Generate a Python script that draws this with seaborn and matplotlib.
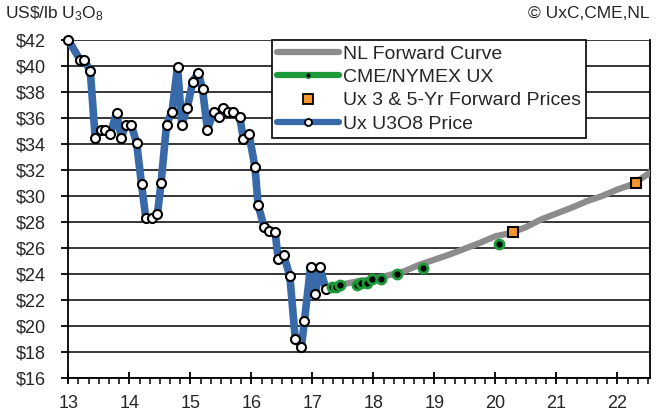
import matplotlib
matplotlib.use('Agg')
import matplotlib.pyplot as plt
import seaborn as sns
from matplotlib.lines import Line2D
from matplotlib.ticker import MultipleLocator, FuncFormatter

# Ux U3O8 month-end price (x = years since 2000)
ux_x = [13.00, 13.19, 13.26, 13.36, 13.44, 13.53, 13.60, 13.69, 13.79, 13.87,
        13.94, 14.03, 14.12, 14.20, 14.27, 14.37, 14.46, 14.52, 14.61, 14.70,
        14.79, 14.86, 14.95, 15.04, 15.13, 15.20, 15.28, 15.38, 15.47, 15.54,
        15.62, 15.70, 15.81, 15.87, 15.96, 16.06, 16.11, 16.21, 16.29, 16.39,
        16.44, 16.53, 16.63, 16.72, 16.82, 16.87, 16.97, 17.05, 17.12, 17.22]
ux_y = [42.0, 40.5, 40.5, 39.6, 34.5, 35.1, 35.1, 34.8, 36.4, 34.5,
        35.5, 35.5, 34.05, 30.9, 28.3, 28.3, 28.6, 31.0, 35.5, 36.5,
        39.95, 35.5, 36.8, 38.8, 39.5, 38.2, 35.1, 36.5, 36.05, 36.8,
        36.5, 36.5, 36.05, 34.4, 34.8, 32.2, 29.3, 27.6, 27.3, 27.2,
        25.15, 25.45, 23.85, 19.0, 18.4, 20.4, 24.55, 22.45, 24.55, 22.85]

# NL forward curve
nl_x = [17.22, 17.5, 17.75, 18.0, 18.25, 18.5, 18.75, 19.0, 19.25, 19.5, 19.75,
        20.0, 20.25, 20.5, 20.75, 21.0, 21.25, 21.5, 21.75, 22.0, 22.25, 22.6]
nl_y = [22.85, 23.2, 23.45, 23.6, 23.9, 24.2, 24.7, 25.1, 25.5, 25.95, 26.4,
        26.9, 27.15, 27.6, 28.2, 28.65, 29.1, 29.6, 30.0, 30.5, 30.9, 32.0]

# CME/NYMEX UX futures
cme_x = [17.32, 17.39, 17.46, 17.73, 17.80, 17.89, 17.98, 18.13, 18.38, 18.81, 20.06]
cme_y = [23.0, 23.0, 23.15, 23.15, 23.3, 23.3, 23.6, 23.6, 24.0, 24.45, 26.3]

# Ux 3 & 5-yr forward prices
fwd_x = [20.29, 22.30]
fwd_y = [27.2, 31.0]

BLUE = '#3869A8'
GRAY = '#8C8C8C'
GREEN = '#1E9A3A'
ORANGE = '#F7962F'

sns.set_theme(style='white')
plt.rcParams['font.family'] = ['Liberation Sans', 'DejaVu Sans']

fig = plt.figure(figsize=(6.57, 4.13), dpi=100)
ax = fig.add_axes([0.104, 0.085, 0.885, 0.818])

sns.lineplot(x=nl_x, y=nl_y, ax=ax, color=GRAY, lw=4.5, sort=False,
             estimator=None, zorder=3)
sns.lineplot(x=ux_x, y=ux_y, ax=ax, color=BLUE, lw=5.5, sort=False,
             estimator=None, marker='o', markersize=6.5, markerfacecolor='white',
             markeredgecolor='black', markeredgewidth=1.5, zorder=4, clip_on=False)
ax.plot(cme_x, cme_y, ls='none', marker='o', markersize=6.5,
        markerfacecolor='black', markeredgecolor=GREEN, markeredgewidth=2, zorder=5)
ax.plot(fwd_x, fwd_y, ls='none', marker='s', markersize=7.5,
        markerfacecolor=ORANGE, markeredgecolor='black', markeredgewidth=1.5, zorder=6)

ax.set_xlim(13, 22.53)
ax.set_ylim(16, 42)
ax.yaxis.set_major_locator(MultipleLocator(2))
ax.xaxis.set_major_locator(MultipleLocator(1))
ax.xaxis.set_minor_locator(MultipleLocator(1 / 6))
ax.yaxis.set_major_formatter(FuncFormatter(lambda v, p: f'${v:.0f}'))
ax.xaxis.set_major_formatter(FuncFormatter(lambda v, p: f'{v:.0f}'))
ax.grid(axis='y', color='black', lw=1.1)
ax.set_axisbelow(True)

for s in ['left', 'bottom', 'right']:
    ax.spines[s].set_visible(True)
    ax.spines[s].set_color('black')
    ax.spines[s].set_linewidth(1.3)
ax.spines['top'].set_visible(False)

ax.tick_params(axis='y', which='major', left=True, direction='out', length=5,
               width=1.3, color='black', pad=11, labelsize=13)
ax.tick_params(axis='x', which='major', bottom=True, direction='inout', length=9,
               width=1.3, color='black', pad=8, labelsize=13)
ax.tick_params(axis='x', which='minor', bottom=True, direction='out', length=4,
               width=1.1, color='black')
ax.set_xlabel('')
ax.set_ylabel('')

handles = [
    Line2D([], [], color=GRAY, lw=4.5),
    Line2D([], [], color=GREEN, lw=4.5, marker='o', markersize=4,
           markerfacecolor='black', markeredgecolor=GREEN),
    Line2D([], [], ls='none', marker='s', markersize=7,
           markerfacecolor=ORANGE, markeredgecolor='black', markeredgewidth=1.3),
    Line2D([], [], color=BLUE, lw=4.5, marker='o', markersize=5,
           markerfacecolor='white', markeredgecolor='black', markeredgewidth=1.3),
]
labels = ['NL Forward Curve', 'CME/NYMEX UX', 'Ux 3 & 5-Yr Forward Prices', 'Ux U3O8 Price']
leg = ax.legend(handles, labels, loc='upper left', bbox_to_anchor=(0.35, 1.0),
                fontsize=14, frameon=True, fancybox=False, framealpha=1,
                edgecolor='black', handlelength=3.2, handletextpad=0.2,
                labelspacing=0.3, borderpad=0.25, borderaxespad=0)
leg.get_frame().set_linewidth(1.2)
leg.set_zorder(10)

fig.text(5 / 657, 1 - 14 / 413, r'US\$/lb $\mathregular{U_3O_8}$', fontsize=12.5,
         ha='left', va='center')
fig.text(650 / 657, 1 - 14 / 413, '\u00a9 UxC,CME,NL', fontsize=12.5,
         ha='right', va='center')

fig.savefig('out.png', dpi=100)
